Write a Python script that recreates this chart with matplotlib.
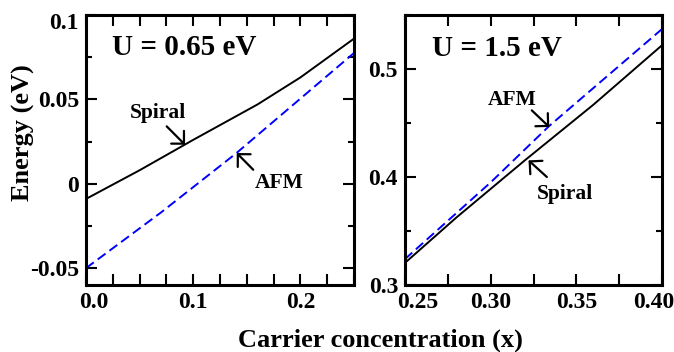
import matplotlib
matplotlib.use("Agg")
import matplotlib.pyplot as plt
from matplotlib.ticker import MultipleLocator
from matplotlib.transforms import ScaledTranslation

plt.rcParams['font.family'] = ['Liberation Serif', 'DejaVu Serif']
plt.rcParams['font.weight'] = 'bold'

# ---- data ----
x_spiral_l = [0.0, 0.05, 0.10, 0.16, 0.20, 0.25]
y_spiral_l = [-0.009, 0.008, 0.026, 0.047, 0.063, 0.086]
x_afm_l = [0.0, 0.07, 0.14, 0.25]
y_afm_l = [-0.050, -0.017, 0.018, 0.0775]

x_spiral_r = [0.25, 0.28, 0.32, 0.36, 0.40]
y_spiral_r = [0.3205, 0.3625, 0.4155, 0.467, 0.522]
x_afm_r = [0.25, 0.30, 0.334, 0.40]
y_afm_r = [0.324, 0.395, 0.447, 0.537]

left_xticks = [0.0, 0.1, 0.2]
left_xticklabels = ['0.0', '0.1', '0.2']
left_yticks = [-0.05, 0.0, 0.05, 0.1]
left_yticklabels = ['-0.05', '0', '0.05', '0.1']
right_xticks = [0.25, 0.30, 0.35, 0.40]
right_xticklabels = ['0.25', '0.30', '0.35', '0.40']
right_yticks = [0.3, 0.4, 0.5]
right_yticklabels = ['0.3', '0.4', '0.5']

W, H = 674, 352
fig = plt.figure(figsize=(W / 100, H / 100), dpi=100)

ax1 = fig.add_axes([86 / W, (H - 285) / H, 268 / W, 270 / H])
ax2 = fig.add_axes([405 / W, (H - 285) / H, 257 / W, 270 / H])

TICK_FS = 17
ANN_FS = 15.5


def style(ax):
    for s in ax.spines.values():
        s.set_linewidth(2.2)
    ax.tick_params(which='both', direction='in', top=True, right=True,
                   width=1.5, labelsize=TICK_FS, pad=5)
    ax.tick_params(axis='both', which='major', length=8)
    ax.tick_params(axis='x', which='minor', length=8)
    ax.tick_params(axis='y', which='minor', length=4.5)


def shift(label, dx_px, dy_px):
    off = ScaledTranslation(dx_px / 100, dy_px / 100, fig.dpi_scale_trans)
    label.set_transform(label.get_transform() + off)


# left panel
ax1.plot(x_spiral_l, y_spiral_l, color='black', lw=1.4)
ax1.plot(x_afm_l, y_afm_l, color='#0000ff', lw=1.4, dashes=(5, 2.5))
ax1.set_xlim(0.0, 0.25)
ax1.set_ylim(-0.06, 0.1)
ax1.set_xticks(left_xticks)
ax1.set_xticklabels(left_xticklabels)
ax1.set_yticks(left_yticks)
ax1.set_yticklabels(left_yticklabels)
ax1.xaxis.set_minor_locator(MultipleLocator(0.025))
ax1.yaxis.set_minor_locator(MultipleLocator(0.025))
style(ax1)
ax1.text(0.097, 0.852, 'U = 0.65 eV', transform=ax1.transAxes,
         fontsize=21, fontweight='bold', ha='left', va='baseline')
arrow = dict(arrowstyle='->,head_length=0.65,head_width=0.65', color='black', lw=1.6,
             shrinkA=0, shrinkB=0)
ax1.text(0.0675, 0.0419, 'Spiral', fontsize=ANN_FS, ha='center', va='center')
ax1.annotate('', xy=(0.0924, 0.0231), xytext=(0.0753, 0.034), arrowprops=arrow)
ax1.text(0.1805, 0.0004, 'AFM', fontsize=ANN_FS, ha='center', va='center')
ax1.annotate('', xy=(0.1406, 0.0182), xytext=(0.156, 0.0083), arrowprops=arrow)

# right panel
ax2.plot(x_spiral_r, y_spiral_r, color='black', lw=1.4)
ax2.plot(x_afm_r, y_afm_r, color='#0000ff', lw=1.4, dashes=(5, 2.5))
ax2.set_xlim(0.25, 0.40)
ax2.set_ylim(0.3, 0.55)
ax2.set_xticks(right_xticks)
ax2.set_xticklabels(right_xticklabels)
ax2.set_yticks(right_yticks)
ax2.set_yticklabels(right_yticklabels)
ax2.xaxis.set_minor_locator(MultipleLocator(0.025))
ax2.yaxis.set_minor_locator(MultipleLocator(0.05))
style(ax2)
ax2.text(0.105, 0.849, 'U = 1.5 eV', transform=ax2.transAxes,
         fontsize=21, fontweight='bold', ha='left', va='baseline')
ax2.text(0.3127, 0.4709, 'AFM', fontsize=ANN_FS, ha='center', va='center')
ax2.annotate('', xy=(0.3342, 0.4463), xytext=(0.324, 0.4617), arrowprops=arrow)
ax2.text(0.3435, 0.3845, 'Spiral', fontsize=ANN_FS, ha='center', va='center')
ax2.annotate('', xy=(0.3221, 0.4154), xytext=(0.3328, 0.400), arrowprops=arrow)

# nudge edge tick labels as in the reference
shift(ax1.get_xticklabels()[0], 8, 0)
shift(ax1.get_yticklabels()[-1], 0, -6)
shift(ax2.get_xticklabels()[0], 13, 0)
shift(ax2.get_xticklabels()[-1], -8, 0)

fig.text(23 / W, (H - 132.5) / H, 'Energy (eV)', rotation=90, fontsize=19,
         fontweight='bold', ha='center', va='center')
fig.text(380 / W, (H - 347) / H, 'Carrier concentration (x)', fontsize=19,
         fontweight='bold', ha='center', va='baseline')

fig.savefig('out.png', dpi=100)
